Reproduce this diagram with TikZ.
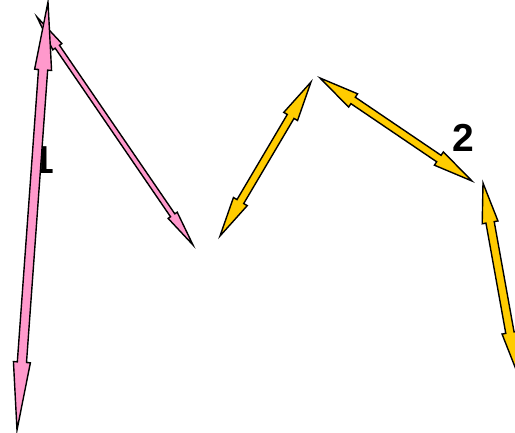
\documentclass[tikz,border=0pt]{standalone}
\usepackage{fontspec}
\setmainfont{Liberation Sans}
\usetikzlibrary{calc}
\definecolor{linkpink}{HTML}{FF99CC}
\definecolor{linkyellow}{HTML}{FFCC00}
% double block arrow: from, to, shaft half width, head half width, head length, fill
\newcommand{\dblarrow}[6]{%
  \draw[blockarrow, fill=#6] (#1)
    -- ($(#1)!#5!(#2)!#4!90:(#2)$) -- ($(#1)!#5!(#2)!#3!90:(#2)$)
    -- ($(#2)!#5!(#1)!#3!-90:(#1)$) -- ($(#2)!#5!(#1)!#4!-90:(#1)$)
    -- (#2)
    -- ($(#2)!#5!(#1)!#4!90:(#1)$) -- ($(#2)!#5!(#1)!#3!90:(#1)$)
    -- ($(#1)!#5!(#2)!#3!-90:(#2)$) -- ($(#1)!#5!(#2)!#4!-90:(#2)$)
    -- cycle;}

\begin{document}
\begin{tikzpicture}[x=1pt, y=-1pt,
  blockarrow/.style={draw=black, line width=1.4pt, line join=miter, miter limit=20},
  numlabel/.style={font=\fontsize{39}{39}\selectfont\bfseries, inner sep=0pt}]
\useasboundingbox (0,0) rectangle (515,432);
\clip (0,0) rectangle (515,432);
% end points
\coordinate (pinkbot) at (17,430);
\coordinate (pinktop) at (48,2);
\coordinate (thintop) at (37,17);
\coordinate (thinbot) at (193,245);
\coordinate (ya1) at (220,236);
\coordinate (ya2) at (311,82);
\coordinate (yb1) at (320,78);
\coordinate (yb2) at (472,181);
\coordinate (yc1) at (483,183);
\coordinate (yc2) at (517,372);
% labels and arrows
\node[numlabel] (one) at (43,160) {1};
\dblarrow{thintop}{thinbot}{2.6pt}{5.5pt}{36pt}{linkpink}
\dblarrow{pinkbot}{pinktop}{4.6pt}{8.5pt}{68pt}{linkpink}
\dblarrow{ya1}{ya2}{3.9pt}{8pt}{40pt}{linkyellow}
\dblarrow{yb1}{yb2}{3.9pt}{8pt}{40pt}{linkyellow}
\dblarrow{yc1}{yc2}{4.2pt}{8pt}{40pt}{linkyellow}
\node[numlabel] (two) at (463,138) {2};
\end{tikzpicture}
\end{document}
